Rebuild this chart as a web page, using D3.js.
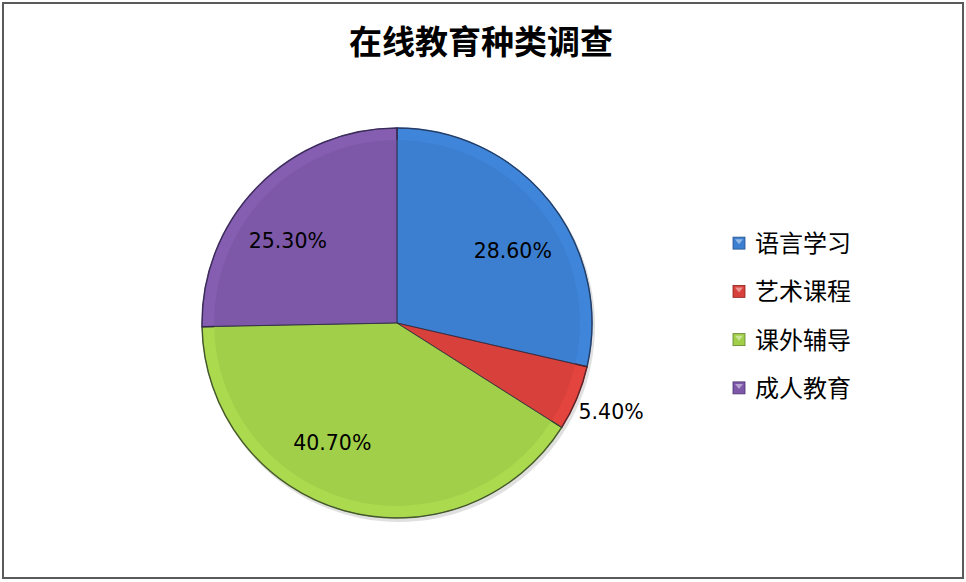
<!DOCTYPE html>
<html>
<head>
<meta charset="utf-8">
<script src="https://cdn.jsdelivr.net/npm/d3@7"></script>
<style>
  body { margin: 0; background: #fff; }
  svg { display: block; }
</style>
</head>
<body>
<svg id="chart" width="966" height="582"></svg>
<script>
// data
var categories = ["语言学习", "艺术课程", "课外辅导", "成人教育"];
var values = [28.6, 5.4, 40.7, 25.3];
var labels = ["28.60%", "5.40%", "40.70%", "25.30%"];
var colors = ["#3c7fd0", "#d8403b", "#a2cf4a", "#7e58a8"];
var edgeColors = ["#23528c", "#8c2420", "#62822a", "#4c3370"];

var W = 966, H = 582;
var cx = 397, cy = 323, r = 195;

var svg = d3.select("#chart");

// frame
svg.append("rect")
  .attr("x", 3).attr("y", 3)
  .attr("width", W - 6).attr("height", H - 7)
  .attr("fill", "#fff")
  .attr("stroke", "#5a5a5a")
  .attr("stroke-width", 2);

// title
svg.append("text")
  .attr("x", 481).attr("y", 54)
  .attr("text-anchor", "middle")
  .attr("font-family", "'Noto Sans CJK SC', sans-serif")
  .attr("font-weight", "bold")
  .attr("font-size", 33)
  .attr("fill", "#000")
  .text("在线教育种类调查");

var pie = d3.pie().sort(null).value(function(d) { return d; });
var arcs = pie(values);

var arc = d3.arc().innerRadius(0).outerRadius(r);
var innerArc = d3.arc().innerRadius(0).outerRadius(r - 12);

var g = svg.append("g").attr("transform", "translate(" + cx + "," + cy + ")");

// soft shadow
g.append("circle")
  .attr("cx", 2).attr("cy", 3).attr("r", r + 1)
  .attr("fill", "#000").attr("opacity", 0.12);

g.selectAll("path.slice")
  .data(arcs)
  .enter()
  .append("path")
  .attr("class", "slice")
  .attr("d", arc)
  .attr("fill", function(d, i) { return d3.color(colors[i]).brighter(0.15); })
  .attr("stroke", function(d, i) { return edgeColors[i]; })
  .attr("stroke-width", 1.5);

// bevel face
g.selectAll("path.face")
  .data(arcs)
  .enter()
  .append("path")
  .attr("class", "face")
  .attr("d", innerArc)
  .attr("fill", function(d, i) { return colors[i]; })
  .attr("stroke", "none");

// dividing lines
g.selectAll("path.edge")
  .data(arcs)
  .enter()
  .append("path")
  .attr("class", "edge")
  .attr("d", arc)
  .attr("fill", "none")
  .attr("stroke", "#2a2a40")
  .attr("stroke-opacity", 0.6)
  .attr("stroke-width", 1);

// labels: inside at 0.7r, nudged toward horizontal (best fit); small ones outside
function labelPos(d, i) {
  var a = (d.startAngle + d.endAngle) / 2;
  if (values[i] < 10) {
    var ro = r * 1.19;
    return [Math.sin(a) * ro, -Math.cos(a) * ro];
  }
  var h = Math.sin(a) >= 0 ? Math.PI / 2 : Math.PI * 1.5;
  a = a + (h - a) * 0.17;
  var ri = r * 0.7;
  return [Math.sin(a) * ri, -Math.cos(a) * ri];
}

g.selectAll("text.lbl")
  .data(arcs)
  .enter()
  .append("text")
  .attr("class", "lbl")
  .attr("transform", function(d, i) {
    var p = labelPos(d, i);
    return "translate(" + p[0] + "," + (p[1] + 7) + ")";
  })
  .attr("text-anchor", "middle")
  .attr("font-family", "'DejaVu Sans', sans-serif")
  .attr("font-size", 20.5)
  .attr("fill", "#000")
  .text(function(d, i) { return labels[i]; });

// legend
var y = d3.scaleBand()
  .domain(categories)
  .range([219, 412]);

var legend = svg.selectAll("g.legend")
  .data(categories)
  .enter()
  .append("g")
  .attr("class", "legend")
  .attr("transform", function(d) { return "translate(733," + (y(d) + y.bandwidth() / 2) + ")"; });

legend.append("rect")
  .attr("x", 0).attr("y", -6)
  .attr("width", 12).attr("height", 12)
  .attr("fill", function(d, i) { return colors[i]; })
  .attr("stroke", function(d, i) { return edgeColors[i]; })
  .attr("stroke-width", 0.8);

legend.append("path")
  .attr("d", "M2,-4 L10,-4 L6,1 Z")
  .attr("fill", "#fff")
  .attr("opacity", 0.45);

legend.append("text")
  .attr("x", 22).attr("y", 9)
  .attr("font-family", "'Noto Sans CJK SC', sans-serif")
  .attr("font-size", 24)
  .attr("fill", "#000")
  .text(function(d) { return d; });
</script>
</body>
</html>
